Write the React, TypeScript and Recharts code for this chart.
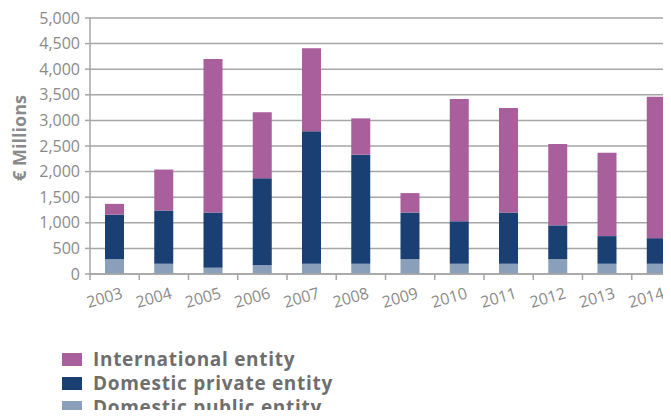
import React from 'react';
import { BarChart, Bar, XAxis, YAxis, CartesianGrid } from 'recharts';

// --- DATA ---
const years = ['2003', '2004', '2005', '2006', '2007', '2008', '2009', '2010', '2011', '2012', '2013', '2014'];
const domesticPublic = [290, 200, 120, 170, 200, 200, 290, 200, 200, 290, 200, 200];
const domesticPrivate = [870, 1040, 1080, 1700, 2590, 2130, 910, 830, 1000, 660, 540, 500];
const international = [210, 800, 3000, 1290, 1620, 710, 380, 2390, 2040, 1590, 1630, 2760];
const yTicks = [0, 500, 1000, 1500, 2000, 2500, 3000, 3500, 4000, 4500, 5000];

const SERIES = [
  { key: 'international', name: 'International entity', color: '#a95f9c' },
  { key: 'private', name: 'Domestic private entity', color: '#1a3f72' },
  { key: 'public', name: 'Domestic public entity', color: '#8a9fb9' },
];

const FONT = '"Open Sans", sans-serif';
const GREY = '#8a8a8a';
const LINE = '#a6a6a6';

const chartData = years.map((y, i) => ({
  year: y,
  public: domesticPublic[i],
  private: domesticPrivate[i],
  international: international[i],
}));

// x tick: label rotated, tick mark at the left edge of the band
const YearTick = (props: any) => {
  const { x, y, payload, band } = props;
  const left = x - band / 2;
  const tx = x + 9;
  const ty = y + 16;
  return (
    <g>
      <line x1={left} y1={y - 8} x2={left} y2={y - 2} stroke={LINE} strokeWidth={1.5} />
      <text
        x={tx}
        y={ty}
        textAnchor="end"
        fill={GREY}
        fontSize={16}
        fontFamily={FONT}
        transform={`rotate(-16, ${tx}, ${ty})`}
      >
        {payload.value}
      </text>
    </g>
  );
};

// y axis title, rotated
const YTitle = (props: any) => {
  const { viewBox } = props;
  const cx = 11;
  const cy = viewBox.y + viewBox.height / 2 - 8;
  return (
    <text
      x={cx}
      y={cy}
      transform={`rotate(-90, ${cx}, ${cy})`}
      textAnchor="middle"
      dominantBaseline="central"
      fill={GREY}
      fontSize={18}
      fontWeight="bold"
      fontFamily={FONT}
    >
      € Millions
    </text>
  );
};

const W = 680;
const M = { top: 10, right: 7, left: 0, bottom: 0 };
const Y_WIDTH = 82;
const BAND = (W - M.left - M.right - Y_WIDTH) / years.length;

export default function App() {
  return (
    <div style={{ position: 'relative', width: 663, height: 410, marginBottom: -8, overflow: 'hidden', fontFamily: FONT }}>
      <BarChart width={W} height={330} data={chartData} margin={M} barSize={19}>
        <CartesianGrid vertical={false} stroke={LINE} strokeWidth={1.5} />
        <XAxis
          dataKey="year"
          axisLine={{ stroke: LINE, strokeWidth: 1.5 }}
          tickLine={false}
          height={64}
          interval={0}
          tick={<YearTick band={BAND} />}
        />
        <YAxis
          width={Y_WIDTH}
          domain={[0, 5000]}
          ticks={yTicks}
          tickFormatter={(v: number) => v.toLocaleString('en-US')}
          axisLine={{ stroke: LINE, strokeWidth: 1.5 }}
          tickLine={{ stroke: LINE, strokeWidth: 1.5 }}
          tickSize={5}
          tickMargin={5}
          tick={{ fontSize: 16, fill: GREY, fontFamily: FONT }}
          label={<YTitle />}
        />
        <Bar dataKey="public" stackId="a" fill={SERIES[2].color} isAnimationActive={false} />
        <Bar dataKey="private" stackId="a" fill={SERIES[1].color} isAnimationActive={false} />
        <Bar dataKey="international" stackId="a" fill={SERIES[0].color} isAnimationActive={false} />
      </BarChart>
      <div style={{ position: 'absolute', left: 54, top: 339 }}>
        {SERIES.map((s) => (
          <div key={s.key} style={{ display: 'flex', alignItems: 'center', height: 24 }}>
            <span style={{ width: 20, height: 13, background: s.color, marginRight: 11, flexShrink: 0 }} />
            <span style={{ fontSize: 19, fontWeight: 'bold', color: '#6e6e6e', letterSpacing: 0.7, whiteSpace: 'nowrap' }}>{s.name}</span>
          </div>
        ))}
      </div>
    </div>
  );
}
